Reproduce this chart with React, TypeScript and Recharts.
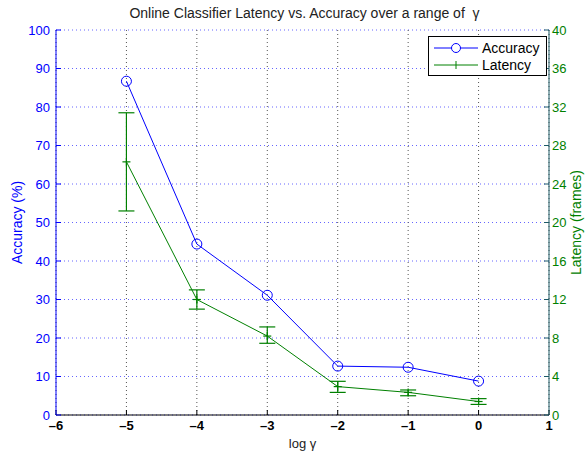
import React from "react";
import {
  ComposedChart,
  Line,
  XAxis,
  YAxis,
  CartesianGrid,
  ErrorBar,
} from "recharts";

// log gamma values
const logGamma = [-5, -4, -3, -2, -1, 0];
const accuracy = [86.7, 44.4, 31.1, 12.7, 12.4, 8.8];
const latency = [26.3, 12.0, 8.2, 2.95, 2.35, 1.4];
const latencyLow = [21.2, 11.0, 7.45, 2.35, 2.0, 1.1];
const latencyHigh = [31.4, 13.0, 9.15, 3.5, 2.6, 1.7];

const xTicks = [-6, -5, -4, -3, -2, -1, 0, 1];
const accTicks = [0, 10, 20, 30, 40, 50, 60, 70, 80, 90, 100];
const latTicks = [0, 4, 8, 12, 16, 20, 24, 28, 32, 36, 40];

const data = logGamma.map((g, i) => ({
  g,
  accuracy: accuracy[i],
  latency: latency[i],
  latErr: [latency[i] - latencyLow[i], latencyHigh[i] - latency[i]],
}));

const BLUE = "#0000ff";
const GREEN = "#008000";
const FONT = "'Liberation Sans', Arial, sans-serif";

const PlusDot = (props: any) => {
  const { cx, cy } = props;
  if (cx == null || cy == null) return null;
  return (
    <g>
      <line x1={cx - 4} x2={cx + 4} y1={cy} y2={cy} stroke={GREEN} strokeWidth={1.2} />
      <line x1={cx} x2={cx} y1={cy - 4} y2={cy + 4} stroke={GREEN} strokeWidth={1.2} />
    </g>
  );
};

const LegendBox = () => (
  <div
    style={{
      position: "absolute",
      left: 428,
      top: 36,
      border: "1px solid #000",
      background: "#fff",
      width: 119,
      height: 40,
      boxSizing: "border-box",
      fontFamily: FONT,
      fontSize: 14,
      color: "#000",
      padding: "2px 0 0 5px",
    }}
  >
    <div style={{ display: "flex", alignItems: "center", height: 17 }}>
      <svg width={44} height={12}>
        <line x1={0} x2={44} y1={6} y2={6} stroke={BLUE} />
        <circle cx={22} cy={6} r={4.5} fill="#fff" stroke={BLUE} />
      </svg>
      <span style={{ marginLeft: 4 }}>Accuracy</span>
    </div>
    <div style={{ display: "flex", alignItems: "center", height: 17 }}>
      <svg width={44} height={12}>
        <line x1={0} x2={44} y1={6} y2={6} stroke={GREEN} />
        <line x1={22} x2={22} y1={2} y2={10} stroke={GREEN} />
      </svg>
      <span style={{ marginLeft: 4 }}>Latency</span>
    </div>
  </div>
);

const fmtMinus = (v: number) => (v < 0 ? "\u2013" + Math.abs(v) : String(v));

export default function App() {
  return (
    <div style={{ position: "absolute", left: 0, top: 0, width: 585, height: 454, background: "#fff" }}>
      <div
        style={{
          position: "absolute",
          top: 5,
          left: 58,
          width: 493,
          textAlign: "center",
          fontFamily: FONT,
          fontSize: 14,
          color: "#222",
        }}
      >
        Online Classifier Latency vs. Accuracy over a range of &nbsp;γ
      </div>
      <ComposedChart
        width={585}
        height={454}
        data={data}
        margin={{ top: 30, right: 0, bottom: 0, left: 0 }}
        style={{ fontFamily: FONT }}
      >
        <CartesianGrid
          yAxisId="left"
          vertical={false}
          stroke={BLUE}
          strokeOpacity={0.6}
          strokeDasharray="1 3"
        />
        <CartesianGrid
          yAxisId="left"
          horizontal={false}
          stroke="#555"
          strokeDasharray="1 3"
        />
        <XAxis
          type="number"
          dataKey="g"
          domain={[-6, 1]}
          ticks={xTicks}
          interval={0}
          tickFormatter={fmtMinus}
          height={39}
          stroke="#000"
          tickSize={-5}
          tickMargin={11}
          tick={{ fill: "#000", fontSize: 13, fontWeight: "bold" }}
          label={{ value: "log γ", position: "insideBottom", offset: 6, fill: "#222", fontSize: 13 }}
        />
        <XAxis
          xAxisId="top"
          orientation="top"
          type="number"
          dataKey="g"
          domain={[-6, 1]}
          ticks={xTicks}
          interval={0}
          height={0}
          stroke="#000"
          tickSize={-5}
          tick={() => <g />}
        />
        <YAxis
          yAxisId="left"
          domain={[0, 100]}
          ticks={accTicks}
          interval={0}
          width={56}
          stroke={BLUE}
          tickSize={-5}
          tickMargin={11}
          tick={{ fill: BLUE, fontSize: 13 }}
          label={{ value: "Accuracy (%)", angle: -90, position: "insideLeft", offset: 17, fill: BLUE, fontSize: 14, style: { textAnchor: "middle" } }}
        />
        <YAxis
          yAxisId="right"
          orientation="right"
          domain={[0, 40]}
          ticks={latTicks}
          interval={0}
          width={36}
          stroke="#1d5a66"
          tickSize={-5}
          tickMargin={8}
          tick={{ fill: GREEN, fontSize: 13 }}
          label={{ value: "Latency (frames)", angle: -90, position: "insideRight", offset: 9, fill: GREEN, fontSize: 14, style: { textAnchor: "middle" } }}
        />
        <Line
          yAxisId="left"
          dataKey="accuracy"
          stroke={BLUE}
          strokeWidth={1}
          dot={{ r: 5, fill: "none", stroke: BLUE, strokeWidth: 1 }}
          activeDot={false}
          isAnimationActive={false}
        />
        <Line
          yAxisId="right"
          dataKey="latency"
          stroke={GREEN}
          strokeWidth={1}
          dot={<PlusDot />}
          activeDot={false}
          isAnimationActive={false}
        >
          <ErrorBar dataKey="latErr" width={8} stroke={GREEN} strokeWidth={1.2} direction="y" isAnimationActive={false} />
        </Line>
      </ComposedChart>
      <LegendBox />
    </div>
  );
}
